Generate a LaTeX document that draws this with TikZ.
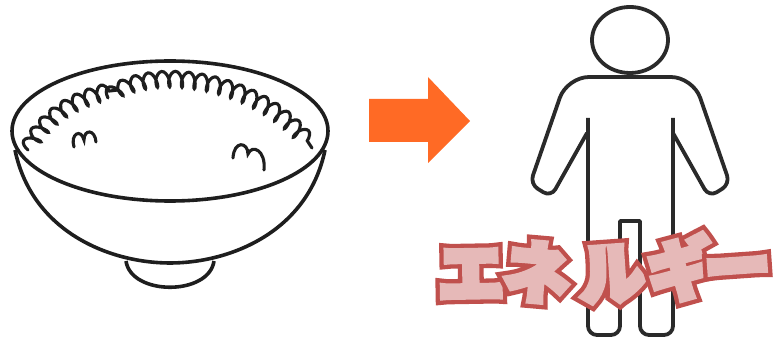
\documentclass[tikz,border=0pt]{standalone}
\usepackage{fontspec}
\newfontfamily\jpline{Noto Sans CJK JP}[FakeBold=22]
\newfontfamily\jpfill{Noto Sans CJK JP}[FakeBold=9]
\usetikzlibrary{decorations.pathmorphing,calc}
\definecolor{inkline}{HTML}{1E1E1E}
\definecolor{figline}{HTML}{2A2A2A}
\definecolor{arrowfill}{HTML}{FF6A25}
\definecolor{kanaline}{HTML}{C0504D}
\definecolor{kanafill}{HTML}{E6B9B8}

\begin{document}
\begin{tikzpicture}[x=1pt,y=-1pt]
\tikzstyle{bowl}=[draw=inkline,line width=3.6pt]
\tikzstyle{rice}=[draw=inkline,line width=3.1pt,line cap=round,
  decorate,decoration={coil,amplitude=8pt,segment length=13pt,aspect=0.4}]
\tikzstyle{figure}=[draw=figline,line width=3.8pt,line join=round]
\tikzstyle{kanaback}=[inner sep=0pt,text=kanaline,
  font=\jpline\bfseries\fontsize{66}{66}\selectfont]
\tikzstyle{kana}=[inner sep=0pt,text=kanafill,
  font=\jpfill\bfseries\fontsize{66}{66}\selectfont]
\useasboundingbox (0,0) rectangle (777,339);

% bowl
\draw[bowl] (170,131) ellipse [x radius=158, y radius=70];
\draw[bowl] (15,150) .. controls (32,232) and (110,263) .. (170,263)
  .. controls (230,263) and (308,232) .. (325,150);
\draw[bowl] (126,261) .. controls (131,296) and (209,296) .. (214,261);
% rice
\draw[rice] (28,150) .. controls (45,115) and (80,96) .. (118,90);
\draw[rice] (108,98) .. controls (150,62) and (262,78) .. (312,148);
\draw[inkline,line width=3.1pt,line cap=round]
  (74,147) .. controls (70,134) and (81,128) .. (84,140)
  .. controls (84,129) and (95,129) .. (96,142);
\draw[inkline,line width=3.1pt,line cap=round]
  (233,158) .. controls (234,140) and (248,142) .. (248,154)
  .. controls (252,144) and (266,150) .. (264,170);

% arrow
\fill[arrowfill] (369,99) -- (428,99) -- (428,77) -- (470,121)
  -- (428,163) -- (428,142) -- (369,142) -- cycle;

% person
\draw[figure] (630,40) ellipse [x radius=38, y radius=33];
\draw[figure] (587,133) [rounded corners=9pt] -- (551,197) -- (530,184)
  [rounded corners=22pt] -- (567,77) -- (693,77)
  [rounded corners=9pt] -- (730,184) -- (709,197) -- (673,133);
\draw[figure] (588,118) [rounded corners=9pt] -- (588,335) -- (620,335)
  [sharp corners] -- (620,221) -- (640,221)
  [rounded corners=9pt] -- (640,335) -- (673,335) [sharp corners] -- (673,118);

% label: red outline layer, then pink face
\foreach \ch/\px/\py/\rot [count=\i] in
  {エ/471/274/1, ネ/537/272/-5, ル/612/274/4, ギ/680/268/6, ー/738/275/4} {
  \node[kanaback,rotate=\rot] (back\i) at (\px,\py) {\ch};
  \node[kana,rotate=\rot] (kana\i) at (\px,\py) {\ch};
}
\end{tikzpicture}
\end{document}
